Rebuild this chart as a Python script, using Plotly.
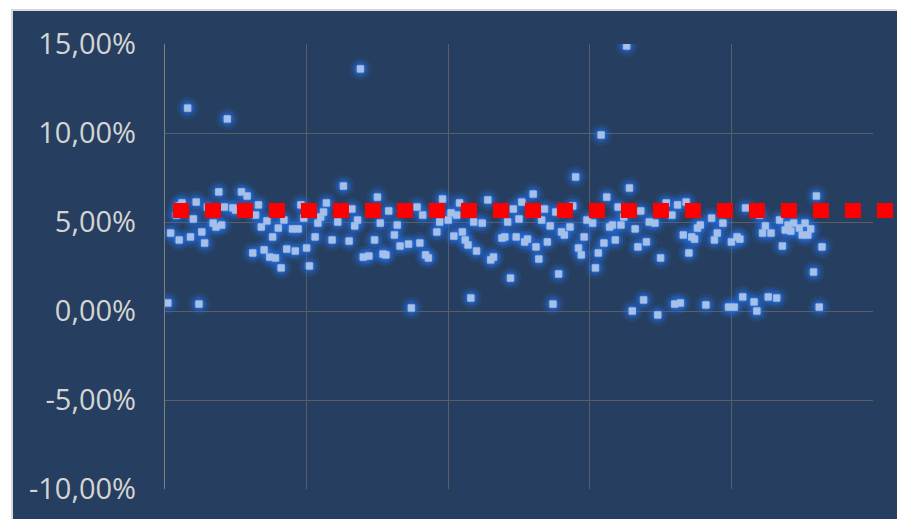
import plotly.graph_objects as go

# ---- data (x = observation index, y = return in %) ----
obs_x = [1, 2, 4, 5, 5, 6, 8, 9, 10, 11, 12, 13, 14, 15, 17, 18, 19, 20, 21, 22,
         24, 25, 27, 29, 31, 32, 33, 34, 35, 36, 37, 38, 39, 40, 41, 42, 43, 45, 46, 47,
         48, 49, 50, 51, 53, 54, 55, 56, 57, 59, 61, 63, 65, 66, 67, 68, 69, 70, 72, 74,
         75, 76, 77, 78, 79, 81, 82, 83, 86, 87, 89, 90, 91, 92, 93, 96, 97, 98, 100, 101,
         102, 103, 104, 105, 106, 107, 108, 109, 110, 112, 114, 115, 116, 119, 120, 121, 122, 123, 124, 125,
         126, 127, 128, 130, 131, 132, 133, 134, 135, 136, 137, 138, 139, 140, 141, 143, 144, 145, 146, 147,
         148, 149, 151, 152, 153, 154, 155, 156, 157, 158, 159, 160, 161, 162, 163, 164, 165, 166, 167, 168,
         169, 170, 171, 173, 174, 175, 177, 179, 180, 181, 182, 183, 184, 185, 186, 187, 188, 189, 191, 193,
         194, 195, 197, 199, 200, 201, 202, 203, 204, 205, 208, 209, 210, 211, 212, 213, 214, 216, 217, 218,
         219, 220, 221, 222, 224, 225, 226, 227, 228, 229, 230, 231, 232]
obs_y = [0.45, 4.38, 5.39, 5.90, 3.99, 6.07, 11.40, 4.16, 5.17, 6.12, 0.39, 4.44, 3.82, 5.84, 4.94, 4.72, 6.69, 4.83, 5.84, 10.79,
         5.79, 5.67, 6.69, 6.46, 3.26, 5.39, 5.96, 4.72, 3.43, 5.06, 3.03, 4.16, 2.98, 4.66, 2.42, 5.11, 3.48, 4.61, 3.37, 4.61,
         5.96, 5.22, 3.54, 2.53, 4.16, 4.94, 5.28, 5.56, 6.07, 3.99, 5.00, 7.02, 3.93, 5.73, 4.78, 5.11, 13.60, 3.03, 3.09, 3.99,
         6.40, 4.94, 3.20, 3.15, 5.62, 4.27, 4.83, 3.65, 3.76, 0.17, 5.84, 3.82, 5.39, 3.15, 2.98, 4.44, 5.00, 6.29, 5.11, 5.51,
         4.21, 5.39, 6.07, 4.44, 3.99, 3.71, 0.73, 5.00, 3.37, 4.94, 6.24, 2.87, 3.03, 4.10, 4.16, 5.00, 1.85, 5.73, 4.16, 5.17,
         6.12, 3.88, 4.04, 6.57, 3.60, 2.92, 5.11, 5.73, 3.88, 4.78, 0.39, 5.56, 2.08, 4.44, 4.27, 4.72, 5.90, 7.53, 3.54, 3.15,
         4.16, 5.11, 4.94, 2.42, 3.26, 9.89, 3.82, 6.40, 4.72, 4.83, 3.99, 5.84, 4.83, 5.28, 14.89, 6.91, 0.00, 4.61, 3.60, 5.62,
         0.62, 3.88, 5.00, 4.94, -0.22, 2.98, 6.07, 5.39, 0.39, 5.96, 0.45, 4.27, 6.12, 3.26, 4.16, 4.04, 4.66, 4.83, 0.34, 5.22,
         3.99, 4.38, 4.94, 0.22, 3.88, 0.22, 4.16, 4.04, 0.79, 5.79, 0.51, 0.00, 5.39, 4.38, 4.78, 0.79, 4.38, 0.73, 5.11, 3.65,
         4.55, 4.83, 4.49, 4.94, 4.66, 4.27, 4.94, 4.27, 4.61, 2.19, 6.46, 0.22, 3.60]

# red reference level (average), drawn across the chart
level_x = [2.8, 258.5]
level_y = [5.65, 5.65]

y_ticks = [-10, -5, 0, 5, 10, 15]
y_tick_labels = ["-10,00%", "-5,00%", "0,00%", "5,00%", "10,00%", "15,00%"]

BG = "#263F60"
GRID = "#5A5E66"

fig = go.Figure()

# soft glow layers (largest/faintest first)
for size, color in [(22, "rgba(35,105,215,0.16)"), (16, "rgba(38,110,222,0.30)"), (11, "rgba(42,118,232,0.50)")]:
    fig.add_trace(go.Scatter(x=obs_x, y=obs_y, mode="markers", hoverinfo="skip",
                             marker=dict(symbol="circle", size=size, color=color, line=dict(width=0)),
                             showlegend=False))
# core points
fig.add_trace(go.Scatter(x=obs_x, y=obs_y, mode="markers", name="Rendimento",
                         marker=dict(symbol="square", size=6.5, color="#A6C0E8",
                                     line=dict(width=0.8, color="#A6C0E8")),
                         showlegend=False))
# red dotted level line on its own (wider) overlay axes
fig.add_trace(go.Scatter(x=level_x, y=level_y, mode="lines", xaxis="x2", yaxis="y2",
                         line=dict(color="#FF0000", width=15, dash="16px,16px"),
                         showlegend=False, hoverinfo="skip"))

# body margin removed below, so figure coordinates equal window pixels
W, H = 897, 519
plot_left, plot_right = 165, 873
top, bottom = 44, 489
pw = W - plot_left
ph = bottom - top
fig.update_layout(
    width=W, height=H,
    margin=dict(l=plot_left, r=0, t=top, b=H - bottom),
    paper_bgcolor="white",
    plot_bgcolor="rgba(0,0,0,0)",
    separators=",.",
    xaxis=dict(domain=[0, (plot_right - plot_left) / pw], range=[0, 250], dtick=50,
               showgrid=True, gridcolor=GRID, gridwidth=1.2, zeroline=False,
               showticklabels=False, ticks="", showline=False),
    yaxis=dict(range=[-10, 15], tickmode="array", tickvals=y_ticks, ticktext=y_tick_labels,
               showgrid=True, gridcolor=GRID, gridwidth=1.2, zeroline=False,
               showline=True, linecolor="#808080", linewidth=1.3,
               ticks="", ticklabelstandoff=22,
               tickfont=dict(family="Open Sans", size=29, color="#D4D4D4")),
    xaxis2=dict(domain=[0, 1], range=[0, 258.5], anchor="y2", visible=False, showgrid=False),
    yaxis2=dict(domain=[0, 1], range=[-10, 15], anchor="x2", visible=False, showgrid=False),
    shapes=[dict(type="rect", xref="paper", yref="paper", layer="below",
                 x0=(12 - plot_left) / pw, x1=1.05,
                 y0=-0.1, y1=1 + (top - 10) / ph,
                 fillcolor=BG, line=dict(color="#D9D9D9", width=2))],
)

fig.write_html("out.html", default_width=f"{W}px", default_height=f"{H}px",
               config={"displayModeBar": False},
               post_script="document.body.style.margin='0';document.body.style.overflow='hidden';")
